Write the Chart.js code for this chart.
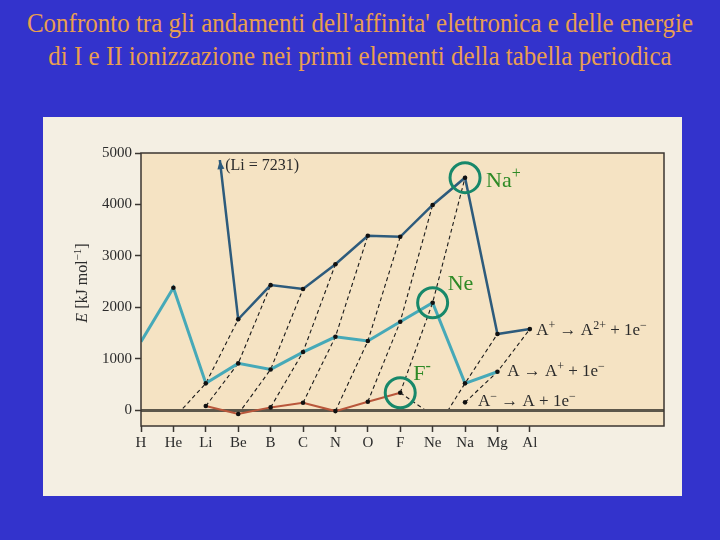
<!DOCTYPE html>
<html>
<head>
<meta charset="utf-8">
<script src="https://cdn.jsdelivr.net/npm/chart.js@4.4.1/dist/chart.umd.min.js"></script>
<style>
  html, body { margin: 0; padding: 0; }
  body { width: 720px; height: 540px; background: #3333cc; position: relative; overflow: hidden; }
  #title {
    position: absolute; left: 0; top: 10px; width: 720px;
    text-align: center; color: #e99f50;
    font-family: "Liberation Serif", "DejaVu Serif", serif; font-size: 25px; line-height: 30px;
    transform: scaleY(1.08);
  }
  #panel { position: absolute; left: 43px; top: 117px; width: 639px; height: 379px; background: #f4efe3; }
  #chart { position: absolute; left: 0; top: 0; }
</style>
</head>
<body>
<div id="title">Confronto tra gli andamenti dell'affinita' elettronica e delle energie<br>di I e II ionizzazione nei primi elementi della tabella periodica</div>
<div id="panel"></div>
<canvas id="chart" width="720" height="540"></canvas>
<script>
document.addEventListener("DOMContentLoaded", function () {

  const elements = ["H", "He", "Li", "Be", "B", "C", "N", "O", "F", "Ne", "Na", "Mg", "Al"];

  // values, kJ/mol
  const ie1 = [1330, 2380, 520, 908, 790, 1128, 1425, 1342, 1718, 2088, 520, 745, null];
  const ie2 = [null, null, 7231, 1765, 2430, 2355, 2835, 3390, 3370, 3990, 4520, 1480, 1575];
  const ea  = [null, null, 78, -78, 52, 142, -20, 162, 337, null, 150, null, null];

  // start of each isoelectronic dashed guide (He- and Ne- are unstable, below zero)
  const eaIso = [null, -170, 78, -78, 52, 142, -20, 162, 337, -480, 150, null, null];
  const eaNeTail = -100;

  const yTicks = [0, 1000, 2000, 3000, 4000, 5000];
  const liArrowTip = 4860;

  const SERIF = "'Liberation Serif', 'DejaVu Serif', serif";
  const INK = "#2b2b2b";
  const IE1_COLOR = "#46a9b8";
  const IE2_COLOR = "#2d5b7c";
  const EA_COLOR = "#b9573b";
  const GREEN = "#17886a";

  function points(arr) {
    const out = [];
    arr.forEach((v, i) => { if (v !== null) out.push({ x: i, y: v }); });
    return out;
  }

  const datasets = [
    {
      label: "IE2",
      data: points(ie2),
      borderColor: IE2_COLOR,
      borderWidth: 2.5,
      pointRadius: 2.3,
      pointBackgroundColor: "#111",
      pointBorderWidth: 0,
      clip: { left: 0, top: -7, right: 0, bottom: 0 }
    },
    {
      label: "IE1",
      data: points(ie1),
      borderColor: IE1_COLOR,
      borderWidth: 3,
      pointRadius: ctx => ctx.dataIndex === 0 ? 0 : 2.3,
      pointBackgroundColor: "#111",
      pointBorderWidth: 0
    },
    {
      label: "EA",
      data: ea.map((v, i) => ({ x: i, y: v })).slice(2, 11),
      borderColor: EA_COLOR,
      borderWidth: 2,
      pointRadius: 2.3,
      pointBackgroundColor: "#111",
      pointBorderWidth: 0,
      spanGaps: false
    },
    {
      label: "EA tail",
      data: [{ x: 8, y: ea[8] }, { x: 9, y: eaNeTail }],
      borderColor: "#222",
      borderWidth: 1.2,
      borderDash: [4, 3],
      pointRadius: 0,
      zeroClip: true
    }
  ];

  // isoelectronic guides: A- (Z) -> A (Z+1) -> A+ (Z+2)
  for (let k = 1; k <= 10; k++) {
    datasets.push({
      label: "iso" + k,
      data: [
        { x: k, y: eaIso[k] },
        { x: k + 1, y: ie1[k + 1] },
        { x: k + 2, y: ie2[k + 2] }
      ],
      borderColor: "#1a1a1a",
      borderWidth: 1.1,
      borderDash: [4, 3],
      pointRadius: 0,
      zeroClip: true
    });
  }

  function drawRich(ctx, parts, x, y, size) {
    let cx = x;
    parts.forEach(p => {
      const sup = p[1];
      ctx.font = (sup ? Math.round(size * 0.72) : size) + "px " + SERIF;
      ctx.fillText(p[0], cx, sup ? y - size * 0.38 : y);
      cx += ctx.measureText(p[0]).width;
    });
  }

  const areaPlugin = {
    id: "area",
    beforeDraw(chart) {
      const { ctx, chartArea: a } = chart;
      ctx.save();
      ctx.fillStyle = "#f5e3c3";
      ctx.fillRect(a.left, a.top, a.right - a.left, a.bottom - a.top);
      ctx.restore();
    },
    beforeDatasetDraw(chart, args) {
      if (!args.meta._dataset.zeroClip) return;
      const { ctx, chartArea: a } = chart;
      const y0 = chart.scales.y.getPixelForValue(0);
      ctx.save();
      ctx.beginPath();
      ctx.rect(a.left, a.top, a.right - a.left, y0 - a.top - 1);
      ctx.clip();
    },
    afterDatasetDraw(chart, args) {
      if (args.meta._dataset.zeroClip) chart.ctx.restore();
    },
    afterDraw(chart) {
      const { ctx, chartArea: a, scales: { x, y } } = chart;
      ctx.save();

      // frame
      ctx.strokeStyle = "#3b3631";
      ctx.lineWidth = 1.5;
      ctx.strokeRect(a.left, a.top, a.right - a.left, a.bottom - a.top);

      // arrow head on the Be -> Li segment (Li = 7231 is off scale)
      const bx = x.getPixelForValue(3), by = y.getPixelForValue(ie2[3]);
      const lx = x.getPixelForValue(2), ly = y.getPixelForValue(ie2[2]);
      const ty = y.getPixelForValue(liArrowTip);
      const t = (by - ty) / (by - ly);
      const tx = bx + t * (lx - bx);
      const ang = Math.atan2(ly - by, lx - bx);
      ctx.fillStyle = IE2_COLOR;
      ctx.beginPath();
      ctx.moveTo(tx, ty);
      ctx.lineTo(tx - 9 * Math.cos(ang) + 3.5 * Math.sin(ang), ty - 9 * Math.sin(ang) - 3.5 * Math.cos(ang));
      ctx.lineTo(tx - 9 * Math.cos(ang) - 3.5 * Math.sin(ang), ty - 9 * Math.sin(ang) + 3.5 * Math.cos(ang));
      ctx.closePath();
      ctx.fill();

      ctx.fillStyle = INK;
      ctx.textBaseline = "middle";
      ctx.textAlign = "left";
      ctx.font = "16px " + SERIF;
      ctx.fillText("(Li = 7231)", x.getPixelForValue(2.6), y.getPixelForValue(4750));

      // reaction labels
      ctx.textBaseline = "alphabetic";
      drawRich(ctx, [["A"], ["+", 1], [" \u2192 A"], ["2+", 1], [" + 1e"], ["\u2212", 1]],
        x.getPixelForValue(12.2), y.getPixelForValue(ie2[12]) + 6, 17);
      drawRich(ctx, [["A \u2192 A"], ["+", 1], [" + 1e"], ["\u2212", 1]],
        x.getPixelForValue(11.3), y.getPixelForValue(780) + 6, 17);
      drawRich(ctx, [["A"], ["\u2212", 1], [" \u2192 A + 1e"], ["\u2212", 1]],
        x.getPixelForValue(10.4), y.getPixelForValue(195) + 6, 17);

      // highlighted species
      const marks = [
        { x: 10, v: ie2[10], parts: [["Na"], ["+", 1]], dx: 21, dy: 9 },
        { x: 9, v: ie1[9], parts: [["Ne"]], dx: 15, dy: -13 },
        { x: 8, v: ea[8], parts: [["F"], ["-", 1]], dx: 13, dy: -13 }
      ];
      marks.forEach(m => {
        const px = x.getPixelForValue(m.x), py = y.getPixelForValue(m.v);
        ctx.strokeStyle = GREEN;
        ctx.lineWidth = 3;
        ctx.beginPath();
        ctx.arc(px, py, 15, 0, Math.PI * 2);
        ctx.stroke();
        ctx.fillStyle = "#2e8a26";
        drawRich(ctx, m.parts, px + m.dx, py + m.dy, 22);
      });

      // y axis title, rotated
      ctx.fillStyle = INK;
      ctx.translate(82, 283);
      ctx.rotate(-Math.PI / 2);
      const parts = [["E", 0, "italic "], [" [kJ mol"], ["\u22121", 1], ["]"]];
      let w = 0;
      parts.forEach(p => {
        ctx.font = (p[2] || "") + (p[1] ? 11 : 16) + "px " + SERIF;
        w += ctx.measureText(p[0]).width;
      });
      let cx = -w / 2;
      parts.forEach(p => {
        ctx.font = (p[2] || "") + (p[1] ? 11 : 16) + "px " + SERIF;
        ctx.fillText(p[0], cx, p[1] ? -1 : 5);
        cx += ctx.measureText(p[0]).width;
      });

      ctx.restore();
    }
  };

  new Chart(document.getElementById("chart"), {
    type: "line",
    data: { datasets: datasets },
    options: {
      responsive: false,
      animation: false,
      layout: { padding: { top: 153, right: 56, bottom: 0, left: 0 } },
      plugins: { legend: { display: false }, tooltip: { enabled: false } },
      elements: { line: { tension: 0 } },
      scales: {
        x: {
          type: "linear",
          min: 0,
          max: 16.14,
          afterFit: s => { s.height = 114; },
          border: { display: false },
          grid: {
            drawOnChartArea: false,
            tickLength: 6,
            tickColor: ctx => ctx.tick && ctx.tick.value <= 12 ? "#3b3631" : "rgba(0,0,0,0)",
            tickWidth: 1.5
          },
          ticks: {
            stepSize: 1,
            autoSkip: false,
            includeBounds: false,
            maxRotation: 0,
            padding: 2,
            color: INK,
            font: { family: SERIF, size: 15 },
            callback: v => elements[v] || ""
          }
        },
        y: {
          min: -310,
          max: 5000,
          afterFit: s => { s.width = 141; },
          afterBuildTicks: s => { s.ticks = yTicks.map(v => ({ value: v })); },
          border: { display: false },
          grid: {
            drawOnChartArea: true,
            color: ctx => ctx.tick && ctx.tick.value === 0 ? "#5d574a" : "rgba(0,0,0,0)",
            lineWidth: ctx => ctx.tick && ctx.tick.value === 0 ? 3 : 1,
            tickLength: 6,
            tickColor: "#3b3631",
            tickWidth: 1.5
          },
          ticks: {
            padding: 3,
            color: INK,
            font: { family: SERIF, size: 15 },
            callback: v => String(v)
          }
        }
      }
    },
    plugins: [areaPlugin]
  });

});
</script>
</body>
</html>
